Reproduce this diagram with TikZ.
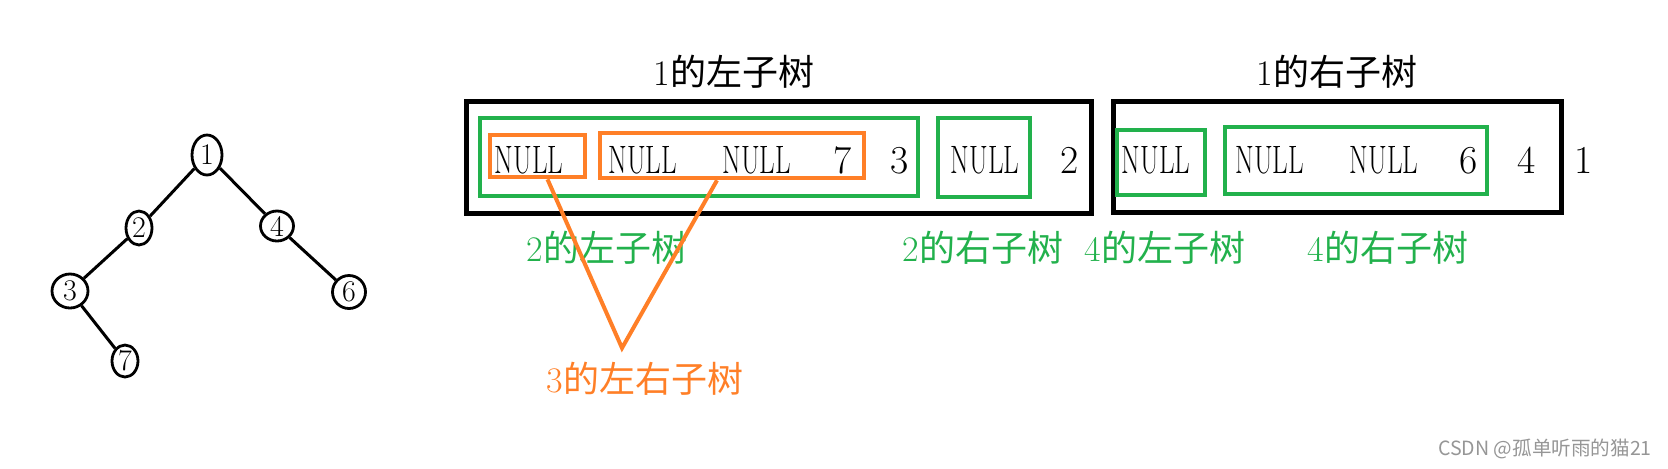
\documentclass[tikz,border=0pt]{standalone}
\usepackage{fontspec}
\usepackage{graphicx}
\usetikzlibrary{shapes.geometric}
\newfontfamily\cjk{Noto Sans CJK SC}
\definecolor{paintgreen}{RGB}{34,177,76}
\definecolor{paintorange}{RGB}{255,127,39}
\definecolor{markgray}{RGB}{150,150,150}
\newcommand{\nul}{\scalebox{0.68}[1]{NULL}}

\begin{document}
\begin{tikzpicture}[x=0.5pt, y=-0.5pt,
    treenode/.style ={ellipse, draw, line width=1.4pt, inner sep=0pt, minimum width=13pt, minimum height=17pt, font=\fontsize{15}{15}\selectfont},
    outerbox/.style ={draw, line width=2.5pt},
    greenbox/.style ={draw=paintgreen, line width=2.3pt},
    orangebox/.style ={draw=paintorange, line width=2.3pt},
    entry/.style ={anchor=base, inner sep=0pt, font=\fontsize{19.8}{20}\selectfont},
    caption/.style ={inner sep=0pt, font=\fontsize{18}{18}\selectfont}]
   \useasboundingbox (0,0) rectangle (1668,468);
   % the tree
   \node[treenode, minimum width=15pt, minimum height=20pt] (n1) at (207,155) {1};
   \node[treenode] (n2) at (139,228) {2};
   \node[treenode, minimum width=16.5pt, minimum height=15pt] (n4) at (277,226) {4};
   \node[treenode, minimum width=18pt] (n3) at (70,291) {3};
   \node[treenode, minimum width=16.5pt, minimum height=16.5pt] (n6) at (349,292) {6};
   \node[treenode, minimum height=16pt] (n7) at (125,361) {7};
   \draw[line width=1.5pt] (n1) to (n2);
   \draw[line width=1.5pt] (n1) to (n4);
   \draw[line width=1.5pt] (n2) to (n3);
   \draw[line width=1.5pt] (n3) to (n7);
   \draw[line width=1.5pt] (n4) to (n6);
   % boxes
   \node[outerbox, minimum width=312.5pt, minimum height=56pt] (left) at (778.5,157) {};
   \node[outerbox, minimum width=224pt, minimum height=55.5pt] (right) at (1337,156.5) {};
   \node[greenbox, minimum width=219pt, minimum height=39pt] (g2l) at (699,157) {};
   \node[greenbox, minimum width=46pt, minimum height=39.5pt] (g2r) at (984,157.5) {};
   \node[greenbox, minimum width=44pt, minimum height=32.5pt] (g4l) at (1161,162.5) {};
   \node[greenbox, minimum width=131pt, minimum height=33.5pt] (g4r) at (1356,160.5) {};
   \node[orangebox, minimum width=47.5pt, minimum height=21pt] (o3l) at (537.5,156) {};
   \node[orangebox, minimum width=132pt, minimum height=22.5pt] (o3r) at (732,155.5) {};
   % the row
   \node[entry] (e1) at (529,173) {\nul};
   \node[entry] (e2) at (642.5,173) {\nul};
   \node[entry] (e3) at (756.5,173) {\nul};
   \node[entry] (e4) at (842.5,173) {7};
   \node[entry] (e5) at (900,173) {3};
   \node[entry] (e6) at (985,173) {\nul};
   \node[entry] (e7) at (1070,173) {2};
   \node[entry] (e8) at (1156,173) {\nul};
   \node[entry] (e9) at (1269.5,173) {\nul};
   \node[entry] (e10) at (1384,173) {\nul};
   \node[entry] (e11) at (1469,173) {6};
   \node[entry] (e12) at (1526.5,173) {4};
   \node[entry] (e13) at (1583.5,173) {1};
   % labels
   \node[caption] (t1l) at (734,72) {1\cjk 的左子树};
   \node[caption] (t1r) at (1337,72) {1\cjk 的右子树};
   \node[caption, text=paintgreen] (t2l) at (607,248) {2\cjk 的左子树};
   \node[caption, text=paintgreen] (t2r) at (983,248) {2\cjk 的右子树};
   \node[caption, text=paintgreen] (t4l) at (1165,248) {4\cjk 的左子树};
   \node[caption, text=paintgreen] (t4r) at (1388,248) {4\cjk 的右子树};
   \node[caption, text=paintorange] (t3) at (645,379) {3\cjk 的左右子树};
   \coordinate (apex) at (622,348);
   \draw[paintorange, line width=2pt] ([xshift=5pt]o3l.south) -- (apex) -- ([xshift=-7.5pt]o3r.south);
   \node[font=\cjk\fontsize{9.8}{10}\selectfont, text=markgray] (mark) at (1545,449) {CSDN @孤单听雨的猫21};
\end{tikzpicture}
\end{document}
